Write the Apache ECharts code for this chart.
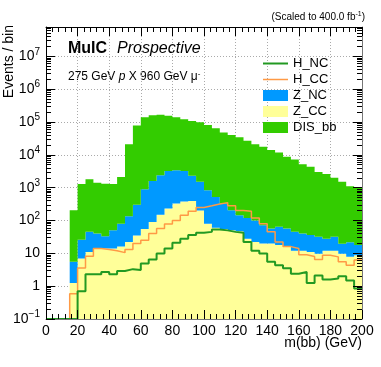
<!DOCTYPE html>
<html>
<head>
<meta charset="utf-8">
<script src="https://cdn.jsdelivr.net/npm/echarts@6/dist/echarts.min.js"></script>
<style>
  html, body { margin: 0; padding: 0; background: #fff; }
  #chart { width: 381px; height: 367px; }
</style>
</head>
<body>
<div id="chart"></div>
<script>
// m(bb) bins, 5 GeV wide (low edge in GeV); bins below 15 GeV are empty
const binStart = [15, 20, 25, 30, 35, 40, 45, 50, 55, 60, 65, 70, 75, 80, 85, 90, 95, 100, 105,
  110, 115, 120, 125, 130, 135, 140, 145, 150, 155, 160, 165, 170, 175, 180, 185, 190, 195]
const binWidth = 5

// stacked backgrounds (events / bin)
const zCC = [1.25, 6.9, 11, 14, 14, 14, 16, 22, 35, 55, 90, 150, 230, 330, 380, 390, 200, 80, 60,
  55, 50, 47, 28, 22, 20, 20, 18, 16, 12, 12, 11, 9.7, 12, 12, 9.7, 7.8, 8.7]
const zNC = [4.25, 19, 34, 26, 19, 36, 64, 113, 265, 835, 1510, 2250, 2970, 3070, 2820, 1910, 1300, 750, 460,
  275, 155, 98, 92, 78, 52, 37, 46, 41, 33, 28, 25, 22, 16, 20, 10, 14, 9.3]
const disBB = [200, 1270, 1750, 1360, 1270, 1250, 2020, 20900, 77700, 139000, 158000, 163000, 152000, 137000, 117000, 105000, 96500, 80000, 63500,
  47700, 39800, 33900, 26900, 20900, 17400, 13900, 11600, 8640, 7150, 5160, 4260, 2970, 2570, 1970, 1480, 1080, 960]

// signal lines (not stacked)
const hNC = [0, 0.7, 2.3, 2.3, 2.7, 2.3, 2.9, 3.3, 3.1, 4.9, 6.5, 9.8, 14, 21, 28, 36, 42, 45, 53,
  50, 45, 42, 22, 12, 9.8, 5.5, 4.3, 3.5, 2.4, 2.7, 1.25, 2.1, 1.6, 1.7, 2.0, 1.5, 0.85]
const hCC = [0.59, 3.6, 8.1, 14, 13, 12, 10.5, 13, 20, 25, 40, 57, 78, 100, 145, 190, 250, 280, 320,
  350, 280, 200, 190, 120, 80, 45, 22, 16, 14, 9, 8, 6.5, 8.7, 7.8, 5.5, 4.3, 6.3]

const yMin = 0.1
const yMax = 7.8e7
const font = 'Liberation Sans, Arial, Helvetica, sans-serif'

// cumulative stack levels
const floor = binStart.map(() => yMin)
const topCC = zCC.slice()
const topNC = zCC.map((v, i) => v + zNC[i])
const topDIS = topNC.map((v, i) => v + disBB[i])

function stackFill(name, color, lower, upper) {
  return {
    name: name,
    type: 'custom',
    xAxisIndex: 0,
    yAxisIndex: 0,
    itemStyle: { color: color },
    data: binStart.map((x, i) => [x, upper[i]]),
    renderItem(params, api) {
      if (params.dataIndex !== 0) return null
      const top = []
      const bot = []
      binStart.forEach((x, i) => {
        top.push(api.coord([x, upper[i]]), api.coord([x + binWidth, upper[i]]))
        bot.push(api.coord([x, lower[i]]), api.coord([x + binWidth, lower[i]]))
      })
      return {
        type: 'polygon',
        shape: { points: top.concat(bot.reverse()) },
        style: { fill: color }
      }
    }
  }
}

function stepLine(name, color, width, values) {
  const pts = [[0, yMin]]
  binStart.forEach((x, i) => pts.push([x, values[i] > 0 ? values[i] : yMin]))
  pts.push([binStart[binStart.length - 1] + binWidth, values[values.length - 1]])
  return {
    name: name,
    type: 'line',
    step: 'end',
    xAxisIndex: 0,
    yAxisIndex: 0,
    symbol: 'none',
    lineStyle: { color: color, width: width },
    itemStyle: { color: color },
    data: pts,
    z: 3
  }
}

function yLabel(v) {
  const e = Math.log10(v)
  const n = Math.round(e)
  if (Math.abs(e - n) > 0.01) return ''
  if (n === 0) return '1'
  if (n === 1) return '10'
  return '10{sup|' + (n < 0 ? '\u2212' + (-n) : n) + '}'
}

const xBase = { type: 'value', min: 0, max: 200, interval: 20 }
const yBase = { type: 'log', logBase: 10, min: yMin, max: yMax }

const chart = echarts.init(document.getElementById('chart'))
chart.setOption({
  animation: false,
  grid: { left: 46, right: 19, top: 27, bottom: 48 },
  xAxis: [
    Object.assign({}, xBase, {
      position: 'bottom',
      axisLine: { show: false },
      axisTick: { show: false },
      axisLabel: { fontSize: 14, color: '#000', fontFamily: font, margin: 5 },
      splitLine: { show: true, lineStyle: { color: '#aaa', type: [1, 2], width: 1 } },
      z: 0
    }),
    Object.assign({}, xBase, {
      position: 'bottom',
      axisLine: { show: true, lineStyle: { color: '#777', width: 1 } },
      axisTick: { show: true, inside: true, length: 9, lineStyle: { color: '#000' } },
      minorTick: { show: true, splitNumber: 5, length: 5, lineStyle: { color: '#000' } },
      axisLabel: { show: false },
      splitLine: { show: false },
      z: 10
    }),
    Object.assign({}, xBase, {
      position: 'top',
      axisLine: { show: true, lineStyle: { color: '#000', width: 1 } },
      axisTick: { show: true, inside: true, length: 9, lineStyle: { color: '#000' } },
      minorTick: { show: true, splitNumber: 5, length: 5, lineStyle: { color: '#000' } },
      axisLabel: { show: false },
      splitLine: { show: false },
      z: 10
    })
  ],
  yAxis: [
    Object.assign({}, yBase, {
      position: 'left',
      axisLine: { show: false },
      axisTick: { show: false },
      axisLabel: {
        formatter: yLabel,
        fontSize: 14,
        color: '#000',
        fontFamily: font,
        margin: 6,
        rich: {
          sup: { fontSize: 10, color: '#000', fontFamily: font, verticalAlign: 'top', padding: [0, 0, 9, 0] }
        }
      },
      splitLine: { show: true, lineStyle: { color: '#aaa', type: [1, 2], width: 1 } },
      z: 0
    }),
    Object.assign({}, yBase, {
      position: 'left',
      axisLine: { show: true, onZero: false, lineStyle: { color: '#000', width: 1 } },
      axisTick: { show: true, inside: true, length: 9, lineStyle: { color: '#000' } },
      minorTick: { show: true, splitNumber: 9, length: 5, lineStyle: { color: '#000' } },
      axisLabel: { show: false },
      splitLine: { show: false },
      z: 10
    }),
    Object.assign({}, yBase, {
      position: 'right',
      axisLine: { show: true, onZero: false, lineStyle: { color: '#777', width: 1 } },
      axisTick: { show: true, inside: true, length: 9, lineStyle: { color: '#000' } },
      minorTick: { show: true, splitNumber: 9, length: 5, lineStyle: { color: '#000' } },
      axisLabel: { show: false },
      splitLine: { show: false },
      z: 10
    })
  ],
  legend: {
    orient: 'vertical',
    left: 263,
    top: 57,
    padding: 0,
    itemWidth: 25,
    itemHeight: 11,
    itemGap: 3,
    symbolKeepAspect: true,
    textStyle: { fontSize: 13, color: '#000', fontFamily: font },
    data: [
      { name: 'H_NC', icon: 'path://M0,0h25v2h-25z' },
      { name: 'H_CC', icon: 'path://M0,0h25v1.5h-25z' },
      { name: 'Z_NC', icon: 'rect' },
      { name: 'Z_CC', icon: 'rect' },
      { name: 'DIS_bb', icon: 'rect' }
    ]
  },
  series: [
    stackFill('Z_CC', '#ffff99', floor, topCC),
    stackFill('Z_NC', '#0099ff', topCC, topNC),
    stackFill('DIS_bb', '#33cc00', topNC, topDIS),
    stepLine('H_CC', '#ff9a45', 1.5, hCC),
    stepLine('H_NC', '#229922', 2, hNC)
  ],
  graphic: [
    {
      type: 'text', right: 16, top: 11,
      style: {
        text: '(Scaled to 400.0 fb{sup|-1})',
        font: '10px ' + font, fill: '#000',
        rich: { sup: { fontSize: 7, fontFamily: font, verticalAlign: 'top', padding: [0, 0, 5, 0] } }
      }
    },
    {
      type: 'text', left: 68, top: 41,
      style: { text: 'MuIC', font: 'bold 16px ' + font, fill: '#000' }
    },
    {
      type: 'text', left: 117, top: 41,
      style: { text: 'Prospective', font: 'italic 16px ' + font, fill: '#000' }
    },
    {
      type: 'text', left: 68, top: 70,
      style: {
        text: '275 GeV {i|p} X 960 GeV \u03bc{sup|-}',
        font: '12px ' + font, fill: '#000',
        rich: {
          i: { fontStyle: 'italic', fontSize: 12, fontFamily: font },
          sup: { fontSize: 8, fontFamily: font, verticalAlign: 'top', padding: [0, 0, 6, 0] }
        }
      }
    },
    {
      type: 'text', x: 9, y: 25, rotation: Math.PI / 2,
      style: { text: 'Events / bin', font: '14px ' + font, fill: '#000', align: 'right', verticalAlign: 'middle' }
    },
    {
      type: 'text', right: 19, top: 336,
      style: { text: 'm(bb) (GeV)', font: '14px ' + font, fill: '#000' }
    }
  ]
})
</script>
</body>
</html>
